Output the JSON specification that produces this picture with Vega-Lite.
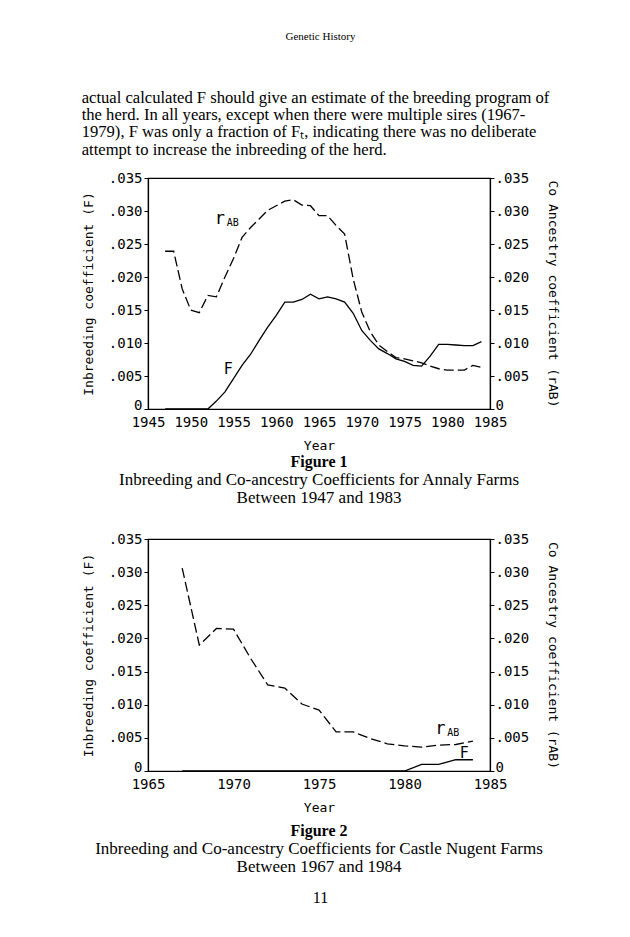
{
  "$schema": "https://vega.github.io/schema/vega-lite/v6.json",
  "background": "white",
  "padding": {"left": 81, "top": 30, "right": 5, "bottom": 5},
  "datasets": {
    "annaly": [
      {"year": 1947, "F": 0, "rAB": 0.0239},
      {"year": 1948, "F": 0, "rAB": 0.0239},
      {"year": 1949, "F": 0, "rAB": 0.0182},
      {"year": 1950, "F": 0, "rAB": 0.0150},
      {"year": 1951, "F": 0, "rAB": 0.0146},
      {"year": 1952, "F": 0, "rAB": 0.0172},
      {"year": 1953, "F": 0.0012, "rAB": 0.0170},
      {"year": 1954, "F": 0.0026, "rAB": 0.0200},
      {"year": 1955, "F": 0.0046, "rAB": 0.0228},
      {"year": 1956, "F": 0.0066, "rAB": 0.0260},
      {"year": 1957, "F": 0.0083, "rAB": 0.0275},
      {"year": 1958, "F": 0.0104, "rAB": 0.0288},
      {"year": 1959, "F": 0.0124, "rAB": 0.0301},
      {"year": 1960, "F": 0.0142, "rAB": 0.0308},
      {"year": 1961, "F": 0.0162, "rAB": 0.0315},
      {"year": 1962, "F": 0.0162, "rAB": 0.0317},
      {"year": 1963, "F": 0.0166, "rAB": 0.0309},
      {"year": 1964, "F": 0.0174, "rAB": 0.0308},
      {"year": 1965, "F": 0.0167, "rAB": 0.0293},
      {"year": 1966, "F": 0.0170, "rAB": 0.0293},
      {"year": 1967, "F": 0.0167, "rAB": 0.0278},
      {"year": 1968, "F": 0.0162, "rAB": 0.0265},
      {"year": 1969, "F": 0.0145, "rAB": 0.0197},
      {"year": 1970, "F": 0.0119, "rAB": 0.0147},
      {"year": 1971, "F": 0.0104, "rAB": 0.0117},
      {"year": 1972, "F": 0.0091, "rAB": 0.0097},
      {"year": 1973, "F": 0.0084, "rAB": 0.0087},
      {"year": 1974, "F": 0.0076, "rAB": 0.0078},
      {"year": 1975, "F": 0.0072, "rAB": 0.0076},
      {"year": 1976, "F": 0.0066, "rAB": 0.0073},
      {"year": 1977, "F": 0.0065, "rAB": 0.0070},
      {"year": 1978, "F": 0.0080, "rAB": 0.0065},
      {"year": 1979, "F": 0.0098, "rAB": 0.0061},
      {"year": 1980, "F": 0.0098, "rAB": 0.0059},
      {"year": 1981, "F": 0.0097, "rAB": 0.0059},
      {"year": 1982, "F": 0.0096, "rAB": 0.0059},
      {"year": 1983, "F": 0.0096, "rAB": 0.0066},
      {"year": 1984, "F": 0.0102, "rAB": 0.0063}
    ],
    "castle": [
      {"year": 1967, "F": 0, "rAB": 0.0306},
      {"year": 1968, "F": 0, "rAB": 0.0190},
      {"year": 1969, "F": 0, "rAB": 0.0215},
      {"year": 1970, "F": 0, "rAB": 0.0214},
      {"year": 1971, "F": 0, "rAB": 0.0170},
      {"year": 1972, "F": 0, "rAB": 0.0130},
      {"year": 1973, "F": 0, "rAB": 0.0125},
      {"year": 1974, "F": 0, "rAB": 0.0101},
      {"year": 1975, "F": 0, "rAB": 0.0092},
      {"year": 1976, "F": 0, "rAB": 0.0059},
      {"year": 1977, "F": 0, "rAB": 0.0059},
      {"year": 1978, "F": 0, "rAB": 0.0049},
      {"year": 1979, "F": 0, "rAB": 0.0041},
      {"year": 1980, "F": 0, "rAB": 0.0038},
      {"year": 1981, "F": 0.0010, "rAB": 0.0036},
      {"year": 1982, "F": 0.0010, "rAB": 0.0039},
      {"year": 1983, "F": 0.0017, "rAB": 0.0040},
      {"year": 1984, "F": 0.0017, "rAB": 0.0045}
    ],
    "lab1": [
      {"year": 1953.4, "v": 0.0288, "t": "r", "size": 17},
      {"year": 1954.9, "v": 0.0282, "t": "AB", "size": 10},
      {"year": 1954.4, "v": 0.0061, "t": "F", "size": 15}
    ],
    "lab2": [
      {"year": 1982.1, "v": 0.0063, "t": "r", "size": 17},
      {"year": 1982.85, "v": 0.0058, "t": "AB", "size": 10},
      {"year": 1983.5, "v": 0.0027, "t": "F", "size": 15}
    ]
  },
  "title": {
    "text": "Genetic History",
    "font": "Liberation Serif",
    "fontSize": 11,
    "fontWeight": "normal",
    "color": "black",
    "anchor": "middle",
    "offset": 48
  },
  "vconcat": [
    {
      "title": {
        "text": "11",
        "orient": "bottom",
        "anchor": "middle",
        "font": "Liberation Serif",
        "fontSize": 16,
        "fontWeight": "normal",
        "color": "black",
        "offset": 14
      },
      "spacing": 24,
      "vconcat": [
        {
          "title": {
            "text": [
              "actual calculated F should give an estimate of the breeding program of",
              "the herd. In all years, except when there were multiple sires (1967-",
              "1979), F was only a fraction of F\u209c, indicating there was no deliberate",
              "attempt to increase the inbreeding of the herd."
            ],
            "anchor": "start",
            "font": "Liberation Serif",
            "fontSize": 16.6,
            "fontWeight": "normal",
            "color": "black",
            "lineHeight": 17.3,
            "offset": 12
          },
          "vconcat": [
            {
              "width": 342,
              "height": 231,
              "title": {
                "text": "Figure 1",
                "subtitle": ["Inbreeding and Co-ancestry Coefficients for Annaly Farms", "Between 1947 and 1983"],
                "orient": "bottom",
                "anchor": "middle",
                "font": "Liberation Serif",
                "fontSize": 16,
                "fontWeight": "bold",
                "color": "black",
                "subtitleFont": "Liberation Serif",
                "subtitleFontSize": 17,
                "subtitleColor": "black",
                "subtitleLineHeight": 18,
                "subtitlePadding": 2,
                "offset": 2
              },
              "layer": [
                {
                  "data": {"name": "annaly"},
                  "mark": {"type": "line", "color": "black", "strokeWidth": 1.3},
                  "encoding": {
                    "x": {"field": "year", "type": "quantitative", "scale": {"domain": [1945, 1985], "nice": false, "zero": false},
                      "axis": {"title": "Year", "values": [1945, 1950, 1955, 1960, 1965, 1970, 1975, 1980, 1985], "format": "d"}},
                    "y": {"field": "F", "type": "quantitative", "scale": {"domain": [0, 0.035], "nice": false},
                      "axis": {"orient": "left", "title": "Inbreeding coefficient (F)", "values": [0, 0.005, 0.01, 0.015, 0.02, 0.025, 0.03, 0.035],
                        "labelExpr": "datum.value == 0 ? '0' : replace(format(datum.value, '.3f'), '0.', '.')",
                        "labelBaseline": {"condition": {"test": "datum.value == 0", "value": "alphabetic"}, "value": "middle"}}}
                  }
                },
                {
                  "data": {"name": "annaly"},
                  "mark": {"type": "line", "color": "black", "strokeWidth": 1.3, "strokeDash": [10, 4]},
                  "encoding": {
                    "x": {"field": "year", "type": "quantitative"},
                    "y": {"field": "rAB", "type": "quantitative", "scale": {"domain": [0, 0.035], "nice": false},
                      "axis": {"orient": "right", "title": "Co Ancestry coefficient (rAB)", "values": [0, 0.005, 0.01, 0.015, 0.02, 0.025, 0.03, 0.035],
                        "labelExpr": "datum.value == 0 ? '0' : replace(format(datum.value, '.3f'), '0.', '.')",
                        "labelBaseline": {"condition": {"test": "datum.value == 0", "value": "alphabetic"}, "value": "middle"}}}
                  }
                },
                {
                  "data": {"name": "lab1"},
                  "mark": {"type": "text", "font": "DejaVu Sans Mono", "color": "black", "align": "center", "baseline": "middle"},
                  "encoding": {
                    "x": {"field": "year", "type": "quantitative"},
                    "y": {"field": "v", "type": "quantitative", "scale": {"domain": [0, 0.035], "nice": false}, "axis": null},
                    "text": {"field": "t"},
                    "size": {"field": "size", "type": "quantitative", "scale": null}
                  }
                }
              ],
              "resolve": {"scale": {"y": "independent"}}
            }
          ]
        },
        {
          "width": 342,
          "height": 232,
          "title": {
            "text": "Figure 2",
            "subtitle": ["Inbreeding and Co-ancestry Coefficients for Castle Nugent Farms", "Between 1967 and 1984"],
            "orient": "bottom",
            "anchor": "middle",
            "font": "Liberation Serif",
            "fontSize": 16,
            "fontWeight": "bold",
            "color": "black",
            "subtitleFont": "Liberation Serif",
            "subtitleFontSize": 17,
            "subtitleColor": "black",
            "subtitleLineHeight": 18,
            "subtitlePadding": 2,
            "offset": 9
          },
          "layer": [
            {
              "data": {"name": "castle"},
              "mark": {"type": "line", "color": "black", "strokeWidth": 1.3},
              "encoding": {
                "x": {"field": "year", "type": "quantitative", "scale": {"domain": [1965, 1985], "nice": false, "zero": false},
                  "axis": {"title": "Year", "values": [1965, 1970, 1975, 1980, 1985], "format": "d"}},
                "y": {"field": "F", "type": "quantitative", "scale": {"domain": [0, 0.035], "nice": false},
                  "axis": {"orient": "left", "title": "Inbreeding coefficient (F)", "values": [0, 0.005, 0.01, 0.015, 0.02, 0.025, 0.03, 0.035],
                    "labelExpr": "datum.value == 0 ? '0' : replace(format(datum.value, '.3f'), '0.', '.')",
                    "labelBaseline": {"condition": {"test": "datum.value == 0", "value": "alphabetic"}, "value": "middle"}}}
              }
            },
            {
              "data": {"name": "castle"},
              "mark": {"type": "line", "color": "black", "strokeWidth": 1.3, "strokeDash": [10, 4]},
              "encoding": {
                "x": {"field": "year", "type": "quantitative"},
                "y": {"field": "rAB", "type": "quantitative", "scale": {"domain": [0, 0.035], "nice": false},
                  "axis": {"orient": "right", "title": "Co Ancestry coefficient (rAB)", "values": [0, 0.005, 0.01, 0.015, 0.02, 0.025, 0.03, 0.035],
                    "labelExpr": "datum.value == 0 ? '0' : replace(format(datum.value, '.3f'), '0.', '.')",
                    "labelBaseline": {"condition": {"test": "datum.value == 0", "value": "alphabetic"}, "value": "middle"}}}
              }
            },
            {
              "data": {"name": "lab2"},
              "mark": {"type": "text", "font": "DejaVu Sans Mono", "color": "black", "align": "center", "baseline": "middle"},
              "encoding": {
                "x": {"field": "year", "type": "quantitative"},
                "y": {"field": "v", "type": "quantitative", "scale": {"domain": [0, 0.035], "nice": false}, "axis": null},
                "text": {"field": "t"},
                "size": {"field": "size", "type": "quantitative", "scale": null}
              }
            }
          ],
          "resolve": {"scale": {"y": "independent"}}
        }
      ]
    }
  ],
  "config": {
    "view": {"stroke": "black", "strokeWidth": 1.2},
    "axis": {
      "grid": false,
      "labelFont": "DejaVu Sans Mono",
      "labelFontSize": 14,
      "labelColor": "black",
      "titleFont": "DejaVu Sans Mono",
      "titleFontSize": 13,
      "titleFontWeight": "normal",
      "titleColor": "black",
      "domainColor": "black",
      "domainWidth": 1.2,
      "tickColor": "black",
      "tickSize": 4,
      "labelPadding": 2,
      "labelFlush": false
    },
    "axisLeft": {"titlePadding": 13},
    "axisRight": {"labelPadding": 1, "titlePadding": 17},
    "axisX": {"ticks": false, "labelPadding": 6, "titlePadding": 10}
  }
}
